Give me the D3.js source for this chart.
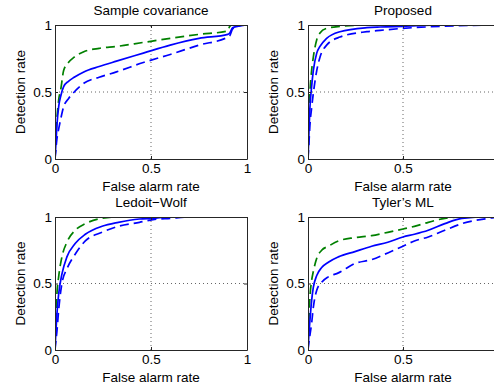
<!DOCTYPE html>
<html><head><meta charset="utf-8">
<script src="https://cdn.jsdelivr.net/npm/d3@7"></script>
<style>
body{margin:0;background:#fff;}
svg{display:block;}
text{font-family:"Liberation Sans",Arial,Helvetica,sans-serif;fill:#000;}
</style></head>
<body>
<svg id="c" width="494" height="389"></svg>
<script>
// ---------- data ----------
const titles = ["Sample covariance", "Proposed", "Ledoit\u2212Wolf", "Tyler\u2019s ML"];
const xLabel = "False alarm rate";
const yLabel = "Detection rate";
const tickValues = [0, 0.5, 1];
const tickLabels = ["0", "0.5", "1"];

// Sample covariance
const scFpr    = [0, 0.005, 0.01, 0.02, 0.03, 0.045, 0.07, 0.1, 0.15, 0.23, 0.32, 0.46, 0.6, 0.75, 0.9, 0.91, 0.925, 0.95, 1];
const scSolid  = [0, 0.12, 0.25, 0.40, 0.47, 0.54, 0.58, 0.61, 0.65, 0.69, 0.73, 0.79, 0.85, 0.90, 0.93, 0.94, 0.98, 0.99, 1];
const scDashed = [0, 0.08, 0.15, 0.23, 0.30, 0.39, 0.45, 0.50, 0.565, 0.61, 0.65, 0.72, 0.78, 0.85, 0.91, 0.92, 0.97, 0.99, 1];
const scGreen  = [0, 0.18, 0.30, 0.45, 0.52, 0.66, 0.72, 0.76, 0.80, 0.826, 0.84, 0.87, 0.90, 0.93, 0.955, 0.99, 1, 1, 1];

// Proposed
const prFpr    = [0, 0.005, 0.01, 0.019, 0.028, 0.046, 0.063, 0.098, 0.168, 0.31, 0.38, 0.5, 0.7, 1];
const prSolid  = [0, 0.2, 0.38, 0.54, 0.66, 0.79, 0.84, 0.90, 0.95, 0.98, 0.985, 0.99, 1, 1];
const prDashed = [0, 0.12, 0.25, 0.38, 0.49, 0.66, 0.76, 0.85, 0.91, 0.95, 0.96, 0.975, 0.99, 1];
const prGreen  = [0, 0.3, 0.49, 0.66, 0.76, 0.89, 0.94, 0.975, 0.99, 1, 1, 1, 1, 1];

// Ledoit-Wolf
const lwFpr    = [0, 0.004, 0.010, 0.019, 0.036, 0.062, 0.105, 0.158, 0.245, 0.33, 0.44, 0.51, 0.6, 0.7, 1];
const lwSolid  = [0, 0.12, 0.27, 0.42, 0.57, 0.70, 0.80, 0.87, 0.93, 0.96, 0.985, 0.99, 1, 1, 1];
const lwDashed = [0, 0.06, 0.14, 0.30, 0.50, 0.61, 0.72, 0.82, 0.885, 0.93, 0.96, 0.98, 0.99, 1, 1];
const lwGreen  = [0, 0.2, 0.42, 0.55, 0.70, 0.81, 0.90, 0.95, 0.99, 1, 1, 1, 1, 1, 1];

// Tyler's ML
const tyFpr    = [0, 0.004, 0.009, 0.019, 0.028, 0.046, 0.072, 0.107, 0.16, 0.247, 0.335, 0.42, 0.5, 0.56, 0.633, 0.72, 0.81, 0.95, 1];
const tySolid  = [0, 0.1, 0.2, 0.37, 0.47, 0.56, 0.62, 0.66, 0.70, 0.74, 0.78, 0.81, 0.85, 0.87, 0.90, 0.95, 0.99, 1, 1];
const tyDashed = [0, 0.05, 0.1, 0.2, 0.32, 0.45, 0.51, 0.55, 0.58, 0.65, 0.68, 0.73, 0.78, 0.82, 0.85, 0.90, 0.95, 0.99, 1];
const tyGreen  = [0, 0.2, 0.37, 0.52, 0.59, 0.69, 0.75, 0.78, 0.82, 0.845, 0.86, 0.885, 0.91, 0.93, 0.96, 0.99, 1, 1, 1];

const panelsData = [
  {fpr: scFpr, solid: scSolid, dashed: scDashed, green: scGreen},
  {fpr: prFpr, solid: prSolid, dashed: prDashed, green: prGreen},
  {fpr: lwFpr, solid: lwSolid, dashed: lwDashed, green: lwGreen},
  {fpr: tyFpr, solid: tySolid, dashed: tyDashed, green: tyGreen}
];

// ---------- layout ----------
const W = 494;
const layout = [
  {x0: 55, x1: 247, y0: 159, y1: 25},
  {x0: 308, x1: 498, y0: 159, y1: 25},
  {x0: 55, x1: 247, y0: 350, y1: 217},
  {x0: 308, x1: 498, y0: 350, y1: 217}
];

const svg = d3.select("#c");
const axisColor = "#262626";
const FS = "13.5px";

panelsData.forEach((pd, i) => {
  const L = layout[i];
  const x = d3.scaleLinear().domain([0, 1]).range([L.x0, L.x1]);
  const y = d3.scaleLinear().domain([0, 1]).range([L.y0, L.y1]);
  const g = svg.append("g");
  const clipId = "clip" + i;
  svg.append("clipPath").attr("id", clipId).append("rect")
    .attr("x", L.x0).attr("y", L.y1).attr("width", L.x1 - L.x0).attr("height", L.y0 - L.y1);

  // grid (dotted)
  g.append("g").selectAll("line").data([0.5]).join("line")
    .attr("x1", d => x(d)).attr("x2", d => x(d)).attr("y1", L.y0).attr("y2", L.y1)
    .attr("stroke", "#666").attr("stroke-width", 1).attr("stroke-dasharray", "1,3");
  g.append("g").selectAll("line").data([0.5]).join("line")
    .attr("y1", d => y(d)).attr("y2", d => y(d)).attr("x1", L.x0).attr("x2", L.x1)
    .attr("stroke", "#666").attr("stroke-width", 1).attr("stroke-dasharray", "1,3");

  // curves
  const series = [
    {vals: pd.green, color: "#008000", dash: "9,5"},
    {vals: pd.solid, color: "#0000ff", dash: null},
    {vals: pd.dashed, color: "#0000ff", dash: "9,5"}
  ];
  const line = d3.line().x(d => x(d[0])).y(d => y(d[1])).curve(d3.curveMonotoneX);
  const cg = g.append("g").attr("clip-path", `url(#${clipId})`);
  series.forEach(s => {
    const pts = pd.fpr.map((f, k) => [f, s.vals[k]]);
    cg.append("path").attr("d", line(pts)).attr("fill", "none")
      .attr("stroke", s.color).attr("stroke-width", 1.7)
      .attr("stroke-dasharray", s.dash);
  });

  // axes with inward ticks (MATLAB style)
  const xFmt = (d, k) => (x(d) + 4 <= W ? tickLabels[k] : "");
  const xAxis = d3.axisBottom(x).tickValues(tickValues).tickFormat(xFmt).tickSizeInner(-3).tickSizeOuter(0).tickPadding(4);
  const yAxis = d3.axisLeft(y).tickValues(tickValues).tickFormat((d, k) => tickLabels[k]).tickSizeInner(-3).tickSizeOuter(0).tickPadding(3);
  const xTop = d3.axisTop(x).tickValues(tickValues).tickFormat("").tickSizeInner(-3).tickSizeOuter(0);
  const yRight = d3.axisRight(y).tickValues(tickValues).tickFormat("").tickSizeInner(-3).tickSizeOuter(0);

  const styleAxis = sel => {
    sel.selectAll("path,line").attr("stroke", axisColor).attr("stroke-width", 1);
    sel.selectAll("text").style("font-size", FS).attr("fill", "#000");
  };
  g.append("g").attr("transform", `translate(0,${L.y0})`).call(xAxis).call(styleAxis);
  g.append("g").attr("transform", `translate(${L.x0},0)`).call(yAxis).call(styleAxis);
  g.append("g").attr("transform", `translate(0,${L.y1})`).call(xTop).call(styleAxis);
  g.append("g").attr("transform", `translate(${L.x1},0)`).call(yRight).call(styleAxis);

  // titles & labels
  const cx = x(0.5);
  g.append("text").attr("x", cx).attr("y", L.y1 - 10).attr("text-anchor", "middle")
    .style("font-size", FS).text(titles[i]);
  g.append("text").attr("x", cx).attr("y", L.y0 + 32).attr("text-anchor", "middle")
    .style("font-size", FS).text(xLabel);
  g.append("text").attr("transform", `translate(${L.x0 - 30},${(L.y0 + L.y1) / 2}) rotate(-90)`)
    .attr("text-anchor", "middle").style("font-size", FS).text(yLabel);
});
</script>
</body></html>
